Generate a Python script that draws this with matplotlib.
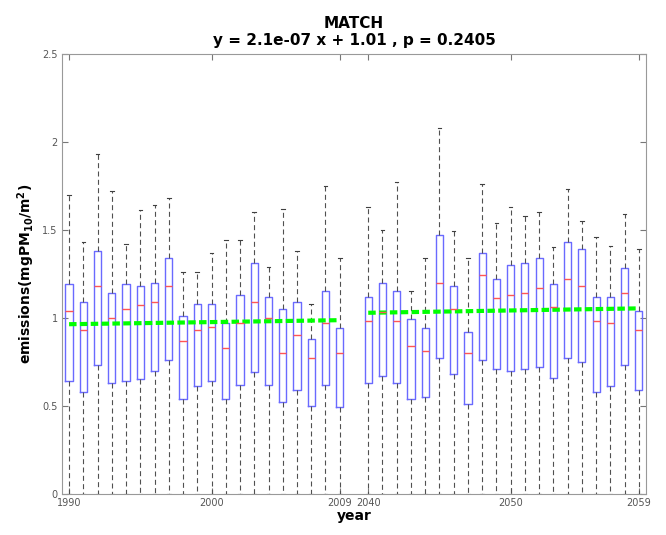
import numpy as np
import matplotlib; matplotlib.use('Agg'); import matplotlib.pyplot as plt

# values (per year: upper whisker, q3, median, q1; lower whisker is 0)
years = list(range(1990, 2010)) + list(range(2040, 2060))
whi = [1.70, 1.43, 1.93, 1.72, 1.42, 1.61, 1.64, 1.68, 1.26, 1.26,
       1.37, 1.44, 1.44, 1.60, 1.29, 1.62, 1.38, 1.08, 1.75, 1.34,
       1.63, 1.50, 1.77, 1.15, 1.34, 2.08, 1.49, 1.34, 1.76, 1.54,
       1.63, 1.58, 1.60, 1.40, 1.73, 1.55, 1.46, 1.41, 1.59, 1.39]
q3 = [1.19, 1.09, 1.38, 1.14, 1.19, 1.18, 1.20, 1.34, 1.01, 1.08,
      1.08, 0.97, 1.13, 1.31, 1.12, 1.05, 1.09, 0.88, 1.15, 0.94,
      1.12, 1.20, 1.15, 0.99, 0.94, 1.47, 1.18, 0.92, 1.37, 1.22,
      1.30, 1.31, 1.34, 1.19, 1.43, 1.39, 1.12, 1.12, 1.28, 1.04]
med = [1.04, 0.93, 1.18, 1.00, 1.05, 1.07, 1.09, 1.18, 0.87, 0.93,
       0.95, 0.83, 0.97, 1.09, 1.00, 0.80, 0.90, 0.77, 0.97, 0.80,
       0.98, 1.03, 0.98, 0.84, 0.81, 1.20, 1.05, 0.80, 1.24, 1.11,
       1.13, 1.14, 1.17, 1.06, 1.22, 1.18, 0.98, 0.97, 1.14, 0.93]
q1 = [0.64, 0.58, 0.73, 0.63, 0.64, 0.65, 0.70, 0.76, 0.54, 0.61,
      0.64, 0.54, 0.62, 0.69, 0.62, 0.52, 0.59, 0.50, 0.62, 0.49,
      0.63, 0.67, 0.63, 0.54, 0.55, 0.77, 0.68, 0.51, 0.76, 0.71,
      0.70, 0.71, 0.72, 0.66, 0.77, 0.75, 0.58, 0.61, 0.73, 0.59]
wlo = [0.0] * 40
fit1 = [0.963, 0.986]   # trend line 1990 -> 2009
fit2 = [1.028, 1.053]   # trend line 2040 -> 2059
tick_years = [1990, 2000, 2009, 2040, 2050, 2059]

pos = [i + 1 for i in range(20)] + [i + 22 for i in range(20)]
ypos = dict(zip(years, pos))
stats = [dict(med=m, q1=a, q3=b, whislo=lo, whishi=hi, fliers=[])
         for m, a, b, lo, hi in zip(med, q1, q3, wlo, whi)]

fig = plt.figure(figsize=(6.66, 5.35), dpi=100)
ax = fig.add_axes([0.093, 0.0772, 0.877, 0.8224])
ax.bxp(stats, positions=pos, widths=0.5, showfliers=False,
       boxprops=dict(color='#6a6aff', lw=1.0),
       medianprops=dict(color='#ff5555', lw=1.0),
       whiskerprops=dict(color='#505050', ls='--', lw=0.8, dashes=(4.5, 3)),
       capprops=dict(color='#404040', lw=0.8), capwidths=0.25)
ax.plot([ypos[1990], ypos[2009]], fit1, color='#00ff00', lw=3, ls='--', dashes=(1.8, 0.8))
ax.plot([ypos[2040], ypos[2059]], fit2, color='#00ff00', lw=3, ls='--', dashes=(1.8, 0.8))

ax.set_xlim(0.5, 41.5); ax.set_ylim(0, 2.5)
ax.set_xticks([ypos[y] for y in tick_years]); ax.set_xticklabels([str(y) for y in tick_years])
ax.set_yticks([0, 0.5, 1, 1.5, 2, 2.5]); ax.set_yticklabels(['0', '0.5', '1', '1.5', '2', '2.5'])
ax.tick_params(direction='in', top=True, right=True, labelsize=7, labelcolor='#555555',
               color='#777777', length=4, pad=3)
for s in ax.spines.values(): s.set_color('#999999')
ax.set_xlabel('year', fontsize=10, fontweight='bold', labelpad=1)
ax.set_ylabel('emissions(mgPM$_{\\mathbf{10}}$/m$^{\\mathbf{2}}$)', fontsize=10, fontweight='bold', labelpad=4)
ax.set_title('MATCH\ny = 2.1e-07 x + 1.01 , p = 0.2405', fontsize=11, fontweight='bold', pad=6)
fig.savefig('out.png', dpi=100)
